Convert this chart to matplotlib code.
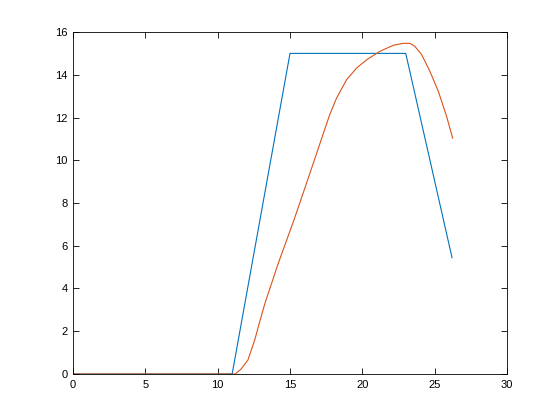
import matplotlib.pyplot as plt

plt.rcParams['font.family'] = ['Liberation Sans', 'DejaVu Sans']

blue_x = [0, 11, 15, 23, 26.2]
blue_y = [0, 0, 15, 15, 5.44]

orange_x = [0, 11.22, 11.6, 12.09, 12.56, 12.94, 13.27, 14.19, 15.27, 15.69, 16.61,
            17.42, 17.76, 18.22, 18.91, 19.61, 20.3, 21.22, 22.14, 22.83, 23.29,
            23.63, 24.1, 24.67, 25.25, 25.82, 26.24]
orange_y = [0, 0, 0.22, 0.65, 1.59, 2.53, 3.31, 5.18, 7.2, 8.03, 9.86,
            11.49, 12.16, 12.91, 13.77, 14.32, 14.7, 15.1, 15.38, 15.47, 15.47,
            15.33, 14.94, 14.16, 13.23, 12.06, 11.04]

fig = plt.figure(figsize=(5.59, 4.18), dpi=100)
ax = fig.add_axes([0.1306, 0.1053, 0.7764, 0.8181])

ax.plot(blue_x, blue_y, color='#0072BD', linewidth=0.8)
ax.plot(orange_x, orange_y, color='#D95319', linewidth=0.8)

ax.set_xlim(0, 30)
ax.set_ylim(0, 16)
ax.set_xticks(range(0, 31, 5))
ax.set_yticks(range(0, 17, 2))
ax.tick_params(direction='in', top=True, right=True, length=4, width=0.6,
               labelsize=8, pad=4)
for s in ax.spines.values():
    s.set_linewidth(0.6)

fig.savefig('out.png', dpi=100)
